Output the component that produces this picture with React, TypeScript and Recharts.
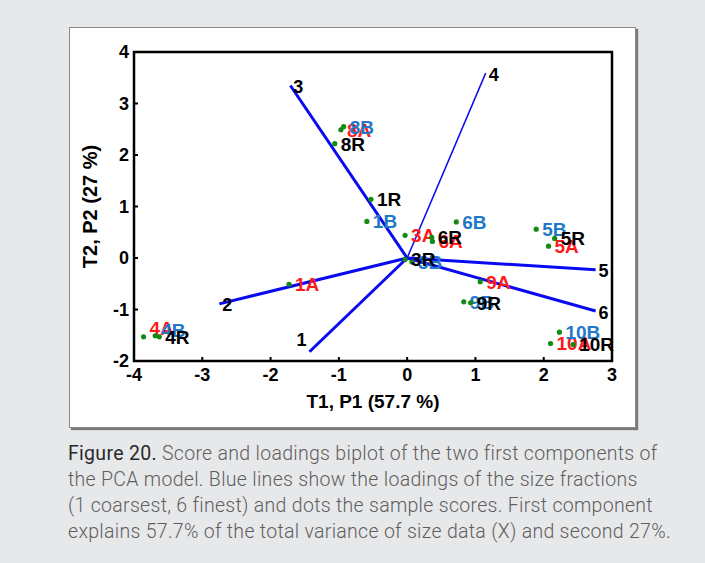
import { ReferenceArea, Scatter, ScatterChart, XAxis, YAxis } from "recharts";

// sample scores, one entry per sample, for replicate A, B and R
const samples = ["1", "3", "4", "5", "6", "8", "9", "10"];
const t1A = [-1.73, -0.03, -3.86, 2.07, 0.37, -0.97, 1.07, 2.1];
const t2A = [-0.51, 0.44, -1.53, 0.23, 0.32, 2.49, -0.46, -1.66];
const t1B = [-0.59, 0.07, -3.69, 1.89, 0.72, -0.93, 0.83, 2.23];
const t2B = [0.71, -0.08, -1.51, 0.56, 0.7, 2.55, -0.85, -1.44];
const t1R = [-0.53, -0.03, -3.63, 2.16, 0.36, -1.06, 0.93, 2.43];
const t2R = [1.14, -0.03, -1.53, 0.38, 0.4, 2.22, -0.87, -1.68];

// loadings of the size fractions (1 coarsest, 6 finest)
const fractions = ["1", "2", "3", "4", "5", "6"];
const p1 = [-1.43, -2.75, -1.71, 1.15, 2.76, 2.76];
const p2 = [-1.82, -0.89, 3.35, 3.59, -0.23, -1.03];

const xTicks = [-4, -3, -2, -1, 0, 1, 2, 3];
const yTicks = [-2, -1, 0, 1, 2, 3, 4];

const BOLD = "'Liberation Sans', Arial, sans-serif";
const labelNudge: Record<string, number> = { "4A": -9, "4B": -6 };

const scoreRows = (t1: number[], t2: number[], suffix: string) =>
  samples.map((s, i) => ({ x: t1[i], y: t2[i], name: s + suffix }));

const loadingRows = fractions.map((f, i) => [
  { x: 0, y: 0, name: "" },
  { x: p1[i], y: p2[i], name: f },
]);

function scoreShape(color: string) {
  return (props: any) => {
    const { cx, cy, payload } = props;
    return (
      <g>
        <circle cx={cx} cy={cy} r={2.6} fill="#138a13" />
        <text
          x={cx + 6}
          y={cy + (labelNudge[payload.name] || 0)}
          dy="0.36em"
          fill={color}
          fontFamily={BOLD}
          fontWeight="bold"
          fontSize={19}
        >
          {payload.name}
        </text>
      </g>
    );
  };
}

function LoadingEnd(props: any) {
  const { cx, cy, payload } = props;
  if (!payload.name) return <g />;
  const left = payload.name === "1";
  return (
    <text
      x={left ? cx - 3 : cx + 3}
      y={left ? cy - 12 : cy + 1}
      dy="0.36em"
      textAnchor={left ? "end" : "start"}
      fill="#000"
      fontFamily={BOLD}
      fontWeight="bold"
      fontSize={18}
    >
      {payload.name}
    </text>
  );
}

const tickStyle = { fill: "#000", fontFamily: BOLD, fontWeight: "bold", fontSize: 18 };

export default function App() {
  return (
    <div
      style={{
        position: "absolute",
        left: 0,
        top: 0,
        width: 705,
        height: 563,
        background: "#e7e8ea",
        overflow: "hidden",
      }}
    >
      <div
        style={{
          position: "absolute",
          left: 69,
          top: 27,
          width: 565,
          height: 399,
          background: "#fff",
          border: "1px solid #8a8a8a",
          boxShadow: "2px 2px 1px #7a7a7a",
        }}
      />
      <div style={{ position: "absolute", left: 0, top: 0 }}>
        <ScatterChart
          width={705}
          height={440}
          margin={{ top: 52, right: 93, left: 84, bottom: 32 }}
        >
          <XAxis
            xAxisId="b"
            type="number"
            dataKey="x"
            domain={[-4, 3]}
            ticks={xTicks}
            height={47}
            axisLine={false}
            tickSize={-4}
            tickMargin={11}
            tickLine={{ stroke: "#000", strokeWidth: 2 }}
            tick={tickStyle}
            label={{
              value: "T1, P1 (57.7 %)",
              position: "insideBottom",
              offset: 0,
              style: { fill: "#000", fontFamily: BOLD, fontWeight: "bold", fontSize: 19 },
            }}
          />
          <XAxis
            xAxisId="t"
            orientation="top"
            type="number"
            dataKey="x"
            domain={[-4, 3]}
            ticks={xTicks}
            height={0}
            axisLine={false}
            tickSize={-4}
            tickLine={{ stroke: "#000", strokeWidth: 2 }}
            tickFormatter={() => ""}
          />
          <YAxis
            yAxisId="l"
            type="number"
            dataKey="y"
            domain={[-2, 4]}
            ticks={yTicks}
            width={50}
            axisLine={false}
            tickSize={-4}
            tickMargin={9}
            tickLine={{ stroke: "#000", strokeWidth: 2 }}
            tick={tickStyle}
            label={{
              value: "T2, P2 (27 %)",
              angle: -90,
              position: "insideLeft",
              offset: 6,
              style: {
                textAnchor: "middle",
                fill: "#000",
                fontFamily: BOLD,
                fontWeight: "bold",
                fontSize: 20,
              },
            }}
          />
          <YAxis
            yAxisId="r"
            orientation="right"
            type="number"
            dataKey="y"
            domain={[-2, 4]}
            ticks={yTicks}
            width={0}
            axisLine={false}
            tickSize={-4}
            tickLine={{ stroke: "#000", strokeWidth: 2 }}
            tickFormatter={() => ""}
          />
          <ReferenceArea
            xAxisId="b"
            yAxisId="l"
            x1={-4}
            x2={3}
            y1={-2}
            y2={4}
            fill="none"
            stroke="#000"
            strokeWidth={2.5}
          />
          {loadingRows.map((rows, i) => (
            <Scatter
              key={"p" + i}
              xAxisId="b"
              yAxisId="l"
              data={rows}
              line={{ stroke: "#0a0af0", strokeWidth: i === 3 ? 1.5 : 3 }}
              shape={LoadingEnd}
              isAnimationActive={false}
            />
          ))}
          <Scatter
            xAxisId="b"
            yAxisId="l"
            data={scoreRows(t1A, t2A, "A")}
            shape={scoreShape("#ff1a1a")}
            isAnimationActive={false}
          />
          <Scatter
            xAxisId="b"
            yAxisId="l"
            data={scoreRows(t1B, t2B, "B")}
            shape={scoreShape("#1f78c8")}
            isAnimationActive={false}
          />
          <Scatter
            xAxisId="b"
            yAxisId="l"
            data={scoreRows(t1R, t2R, "R")}
            shape={scoreShape("#000")}
            isAnimationActive={false}
          />
        </ScatterChart>
      </div>
      <div
        style={{
          position: "absolute",
          left: 68,
          top: 441,
          fontFamily: "Roboto, sans-serif",
          fontWeight: 300,
          fontSize: 19.5,
          letterSpacing: 0.3,
          lineHeight: "26px",
          color: "#5e5e5e",
          whiteSpace: "nowrap",
        }}
      >
        <div>
          <span style={{ color: "#2a2a2a", fontWeight: 400 }}>Figure 20.</span> Score and
          loadings biplot of the two first components of
        </div>
        <div>the PCA model. Blue lines show the loadings of the size fractions</div>
        <div>(1 coarsest, 6 finest) and dots the sample scores. First component</div>
        <div>explains 57.7% of the total variance of size data (X) and second 27%.</div>
      </div>
    </div>
  );
}
